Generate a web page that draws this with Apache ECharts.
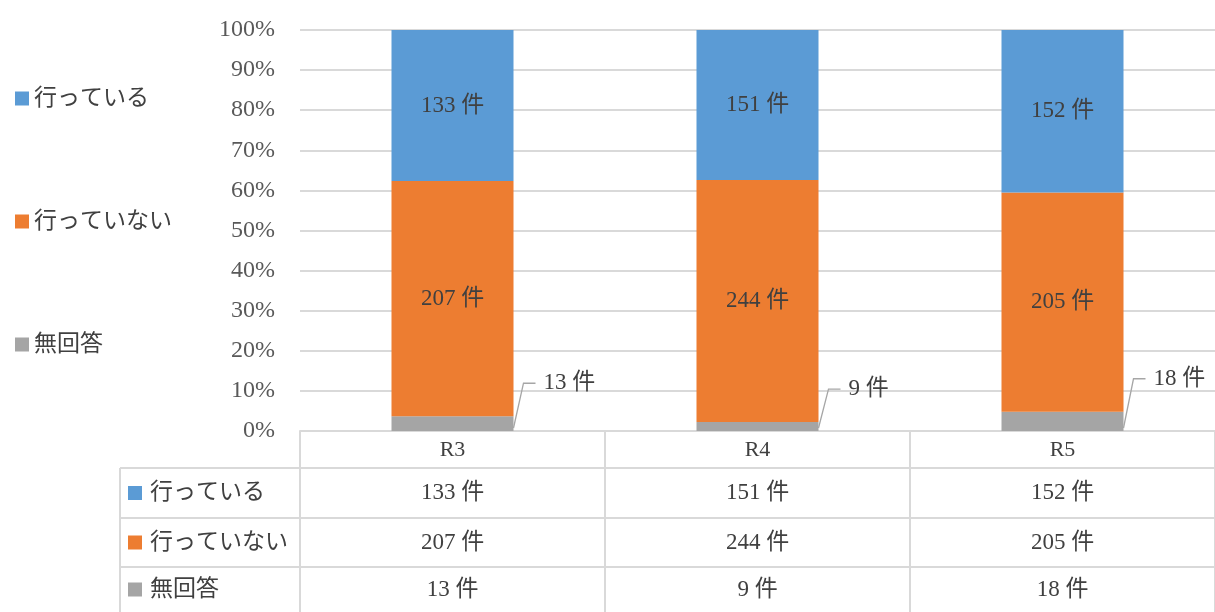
<!DOCTYPE html>
<html><head><meta charset="utf-8">
<script src="https://cdn.jsdelivr.net/npm/echarts@6/dist/echarts.min.js"></script>
<style>html,body{margin:0;padding:0;background:#fff}#c{width:1215px;height:612px}</style>
</head><body><div id="c"></div>
<script>
const categories = ['R3', 'R4', 'R5'];
const seriesNames = ['行っている', '行っていない', '無回答'];
const doing = [133, 151, 152];
const notDoing = [207, 244, 205];
const noAnswer = [13, 9, 18];
const yTicks = [0, 10, 20, 30, 40, 50, 60, 70, 80, 90, 100];
const colors = ['#5B9BD5', '#ED7D31', '#A5A5A5'];
const unit = ' 件';

const counts = [doing, notDoing, noAnswer];
const totals = categories.map((_, i) => doing[i] + notDoing[i] + noAnswer[i]);
const pct = arr => arr.map((v, i) => v / totals[i] * 100);

const FONT = "'Liberation Serif', 'Noto Sans CJK JP', serif";
const TXT = '#404040';
const GRID_L = 300, GRID_R = 0, GRID_T = 30, GRID_B = 181;
const W = 1215, H = 612;
const axisY = H - GRID_B;
const colW = (W - GRID_L - GRID_R) / categories.length;
const BAR_RATIO = 0.4;
const LINE = '#d9d9d9';
const FS = 23;
const LABEL_DX = 30, LABEL_DY = -33;

const chart = echarts.init(document.getElementById('c'), null, {renderer: 'canvas'});

function makeSeries(idx, order) {
  return {
    name: seriesNames[idx], type: 'bar', stack: 'all', barWidth: (BAR_RATIO * 100) + '%',
    data: pct(counts[idx]),
    itemStyle: {color: colors[idx]},
    z: 2 + order,
    label: {
      show: true, position: 'inside', color: TXT, fontSize: FS, fontFamily: FONT,
      formatter: p => counts[idx][p.dataIndex] + unit
    }
  };
}
const sNo = makeSeries(2, 0);
sNo.label.position = 'right';
sNo.labelLayout = function (p) {
  return {x: p.rect.x + p.rect.width + LABEL_DX, y: p.rect.y + LABEL_DY, align: 'left', verticalAlign: 'middle'};
};

// Table graphics
const g = [];
const rowTops = [axisY + 37, axisY + 87, axisY + 136];
const rowBottoms = [axisY + 87, axisY + 136, H];
const tableLeft = 120;
const line = (x1, y1, x2, y2) => ({type: 'line', shape: {x1, y1, x2, y2}, style: {stroke: LINE, lineWidth: 2}, silent: true});
rowTops.forEach(y => g.push(line(tableLeft, y, W, y)));
g.push(line(tableLeft, rowTops[0], tableLeft, H));
for (let i = 0; i <= categories.length; i++) {
  const x = GRID_L + colW * i;
  g.push(line(x, axisY, x, H));
}
seriesNames.forEach((name, r) => {
  const cy = (rowTops[r] + rowBottoms[r]) / 2;
  g.push({type: 'rect', shape: {x: 128, y: cy - 7, width: 14, height: 14}, style: {fill: colors[r]}, silent: true});
  g.push({type: 'text', x: 150, y: cy, style: {text: name, font: FS + 'px ' + FONT, fill: TXT, verticalAlign: 'middle', align: 'left'}, silent: true});
  categories.forEach((c, i) => {
    g.push({type: 'text', x: GRID_L + colW * (i + 0.5), y: cy, style: {text: counts[r][i] + unit, font: FS + 'px ' + FONT, fill: TXT, verticalAlign: 'middle', align: 'center'}, silent: true});
  });
});

const option = {
  animation: false,
  backgroundColor: '#fff',
  textStyle: {fontFamily: FONT},
  legend: {
    orient: 'vertical', left: 10, top: 82, itemGap: 100,
    itemWidth: 14, itemHeight: 14, icon: 'rect',
    data: seriesNames,
    textStyle: {fontSize: FS, color: TXT, fontFamily: FONT}
  },
  grid: {left: GRID_L, right: GRID_R, top: GRID_T, bottom: GRID_B, containLabel: false},
  xAxis: {
    type: 'category', data: categories,
    axisLine: {show: true, lineStyle: {color: LINE, width: 2}},
    axisTick: {show: false},
    axisLabel: {fontSize: 22, color: TXT, fontFamily: FONT, margin: 8}
  },
  yAxis: {
    type: 'value', min: yTicks[0], max: yTicks[yTicks.length - 1], interval: yTicks[1] - yTicks[0],
    axisLine: {show: false}, axisTick: {show: false},
    axisLabel: {fontSize: 24, color: '#595959', fontFamily: FONT, margin: 25, formatter: '{value}%'},
    splitLine: {lineStyle: {color: LINE, width: 2}}
  },
  series: [sNo, makeSeries(1, 1), makeSeries(0, 2)],
  graphic: g
};
chart.setOption(option);

// Leader lines for the 無回答 labels, positioned through the chart's own scales
const noPct = pct(noAnswer);
categories.forEach((c, i) => {
  const top = chart.convertToPixel({xAxisIndex: 0, yAxisIndex: 0}, [i, noPct[i]]);
  const base = chart.convertToPixel({xAxisIndex: 0, yAxisIndex: 0}, [i, 0]);
  const right = top[0] + colW * BAR_RATIO / 2;
  const ly = top[1] + LABEL_DY;
  g.push({
    type: 'polyline', silent: true, z: 10,
    shape: {points: [[right, base[1] - 3], [right + 10, ly], [right + 22, ly]]},
    style: {stroke: '#a6a6a6', lineWidth: 1.3, fill: null}
  });
});
chart.setOption({graphic: g}, {replaceMerge: ['graphic']});
</script></body></html>
